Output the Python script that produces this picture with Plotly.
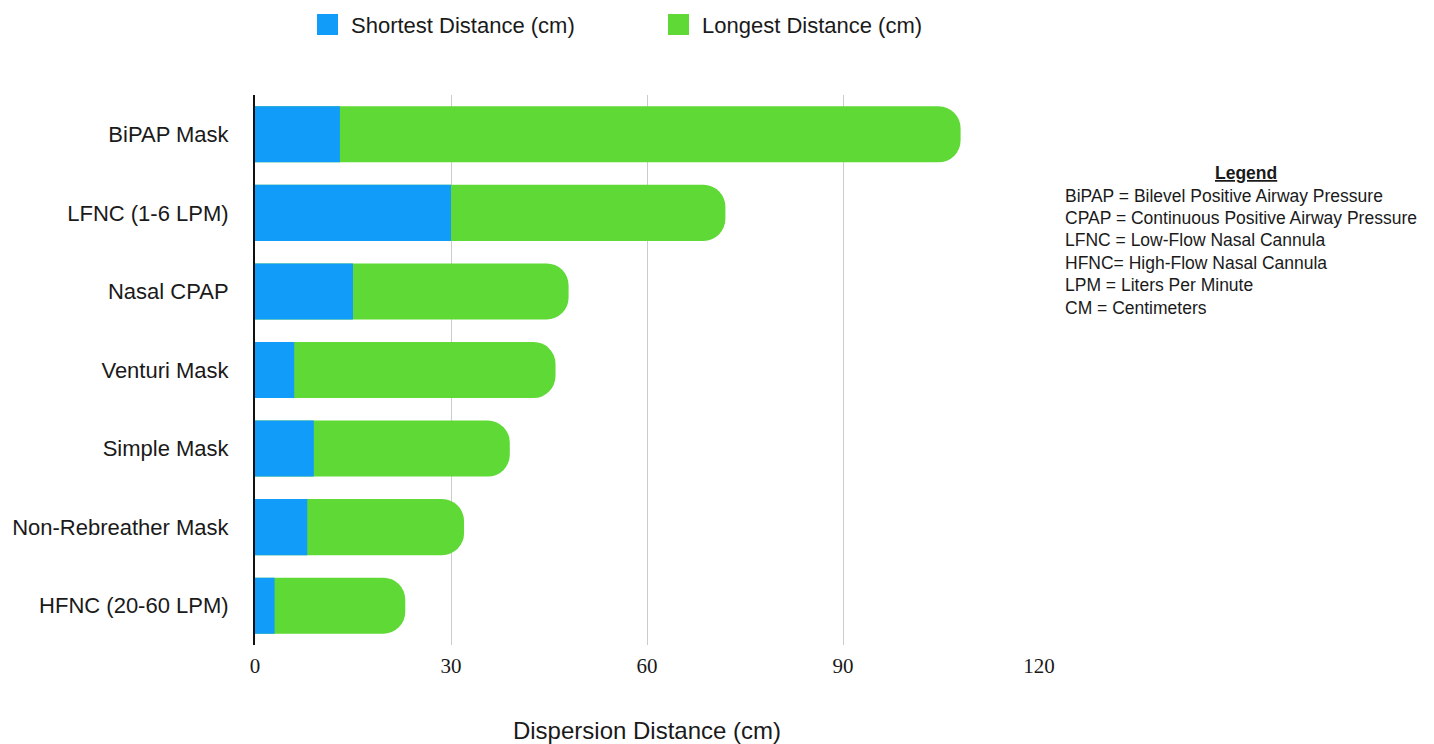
import plotly.graph_objects as go

# Oxygen delivery devices and their measured dispersion distances
devices = [
    "BiPAP Mask",
    "LFNC (1-6 LPM)",
    "Nasal CPAP",
    "Venturi Mask",
    "Simple Mask",
    "Non-Rebreather Mask",
    "HFNC (20-60 LPM)",
]
shortest_cm = [13, 30, 15, 6, 9, 8, 3]
longest_cm = [108, 72, 48, 46, 39, 32, 23]
x_ticks = [0, 30, 60, 90, 120]

series_names = ["Shortest Distance (cm)", "Longest Distance (cm)"]

glossary_title = "Legend"
glossary = [
    "BiPAP = Bilevel Positive Airway Pressure",
    "CPAP = Continuous Positive Airway Pressure",
    "LFNC = Low-Flow Nasal Cannula",
    "HFNC= High-Flow Nasal Cannula",
    "LPM = Liters Per Minute",
    "CM = Centimeters",
]

BLUE = "#119cfa"
GREEN = "#5fd936"
TEXT = "#1a1a1a"
SANS = "Liberation Sans, Arial, Helvetica, sans-serif"
SERIF = "Liberation Serif, Times New Roman, serif"

W, H = 1434, 744
ML, MR, MT, MB = 255, 395, 95, 99
PW, PH = W - ML - MR, H - MT - MB


def px_x(px):
    return (px - ML) / PW


def px_y(py):
    return (H - MB - py) / PH


fig = go.Figure()
fig.add_bar(
    y=devices, x=longest_cm, orientation="h",
    name=series_names[1], showlegend=False,
    marker=dict(color=GREEN, line_width=0, cornerradius=22),
)
fig.add_bar(
    y=devices, x=shortest_cm, orientation="h",
    name=series_names[0], showlegend=False,
    marker=dict(color=BLUE, line_width=0, cornerradius=0),
)

# Series key across the top: square swatch followed by its label
shapes = []
annotations = []
for name, color, left in zip(series_names, [BLUE, GREEN], [317, 668]):
    shapes.append(dict(
        type="rect", xref="paper", yref="paper",
        x0=px_x(left), x1=px_x(left + 21), y0=px_y(35), y1=px_y(14),
        fillcolor=color, line_width=0, layer="above",
    ))
    annotations.append(dict(
        text=name, xref="paper", yref="paper",
        x=px_x(left + 32), y=px_y(25), xanchor="left", yanchor="middle",
        showarrow=False, font=dict(family=SANS, size=22, color=TEXT),
    ))

# Abbreviation glossary on the right
annotations.append(dict(
    text="<b><u>" + glossary_title + "</u></b>",
    xref="paper", yref="paper", x=px_x(1246), y=px_y(173),
    xanchor="center", yanchor="middle", showarrow=False,
    font=dict(family=SANS, size=17.5, color=TEXT),
))
for i, line in enumerate(glossary):
    annotations.append(dict(
        text=line, xref="paper", yref="paper",
        x=px_x(1063), y=px_y(195.5 + i * 22.4),
        xanchor="left", yanchor="middle", showarrow=False,
        font=dict(family=SANS, size=17.5, color=TEXT),
    ))

fig.update_layout(
    width=W, height=H,
    margin=dict(l=ML, r=MR, t=MT, b=MB, autoexpand=False),
    paper_bgcolor="white", plot_bgcolor="white",
    barmode="overlay", bargap=0.286,
    showlegend=False,
    shapes=shapes,
    annotations=annotations,
    xaxis=dict(
        range=[0, 120], tickvals=x_ticks, ticktext=[str(v) for v in x_ticks],
        showgrid=True, gridcolor="#cccccc", gridwidth=1,
        zeroline=False, showline=False, ticks="",
        tickfont=dict(family=SERIF, size=21, color=TEXT),
        ticklabelstandoff=6,
        title=dict(text="Dispersion Distance (cm)", standoff=50,
                   font=dict(family=SANS, size=24, color=TEXT)),
        automargin=False, fixedrange=True,
    ),
    yaxis=dict(
        categoryorder="array", categoryarray=devices,
        autorange="reversed",
        showline=True, linecolor="#111111", linewidth=2,
        showgrid=False, zeroline=False, ticks="",
        tickfont=dict(family=SANS, size=22, color=TEXT),
        ticklabelstandoff=20,
        automargin=False, fixedrange=True,
    ),
)

fig.write_html("out.html")
